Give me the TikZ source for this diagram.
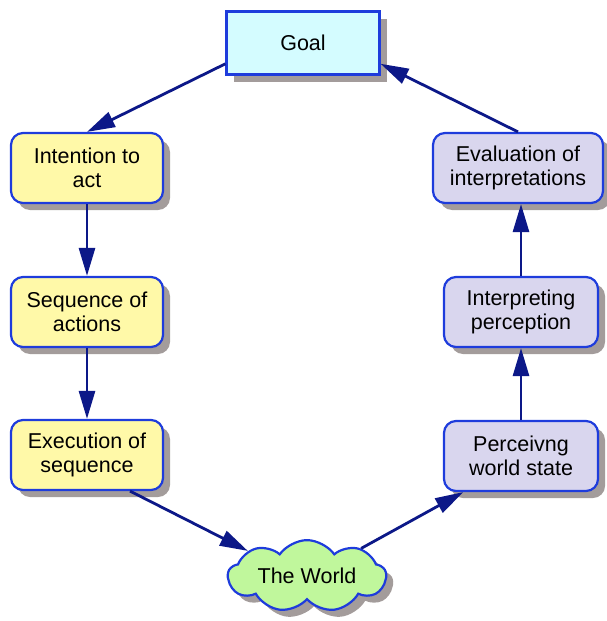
\documentclass[tikz,border=0pt]{standalone}
\usepackage{fontspec}
\setmainfont{Liberation Sans}
\definecolor{nmBorder}{HTML}{1E3CDC}
\definecolor{nmArrow}{HTML}{0C1888}
\definecolor{nmShadow}{HTML}{A39C9B}
\definecolor{nmGoal}{HTML}{D4FCFF}
\definecolor{nmDo}{HTML}{FFF9A8}
\definecolor{nmSee}{HTML}{D9D6EE}
\definecolor{nmWorld}{HTML}{C0F79C}
\usetikzlibrary{calc,positioning,arrows.meta,shapes.symbols,shadows}

\tikzset{
  stage/.style={draw=nmBorder, line width=2.2pt, rounded corners=12pt,
    minimum width=152pt, minimum height=70pt, align=center,
    font=\fontsize{21.5}{24}\selectfont,
    drop shadow={shadow xshift=7pt, shadow yshift=-7pt, fill=nmShadow, opacity=1}},
  flow/.style={draw=nmArrow, line width=2.8pt, -{Triangle[length=28pt,width=16pt]}}
}

\begin{document}
\begin{tikzpicture}[x=1pt, y=-1pt]
  \useasboundingbox (0,0) rectangle (607,621);

  \node[stage, rounded corners=0pt, fill=nmGoal, minimum width=153pt, minimum height=63pt] (goal) at (303,43) {Goal};

  % left column
  \node[stage, fill=nmDo] (intent) at (87,168) {Intention to\\act};
  \node[stage, fill=nmDo] (seq) at (87,312) {Sequence of\\actions};
  \node[stage, fill=nmDo] (exec) at (87,455) {Execution of\\sequence};

  % right column
  \node[stage, fill=nmSee, minimum width=170pt] (eval) at (518,168) {Evaluation of\\interpretations};
  \node[stage, fill=nmSee, minimum width=154pt] (interp) at (521,312) {Interpreting\\perception};
  \node[stage, fill=nmSee, minimum width=154pt] (perc) at (521,456) {Perceivng\\world state};

  \node[stage, cloud, rounded corners=0pt, cloud puffs=9, cloud puff arc=110, aspect=2.8,
    inner sep=0pt, fill=nmWorld, minimum width=158pt, minimum height=60pt] (world) at (307,576) {The World};

  \draw[flow] (goal.195) -- (intent.north);
  \draw[flow] (intent) -- (seq);
  \draw[flow] (seq) -- (exec);
  \draw[flow] (exec.-40) -- (world.157);
  \draw[flow] (world.27) -- (perc.212);
  \draw[flow] (perc) -- (interp);
  \draw[flow] (interp.north) -- (interp.north |- eval.south);
  \draw[flow] (eval.north) -- (goal.345);
\end{tikzpicture}
\end{document}
